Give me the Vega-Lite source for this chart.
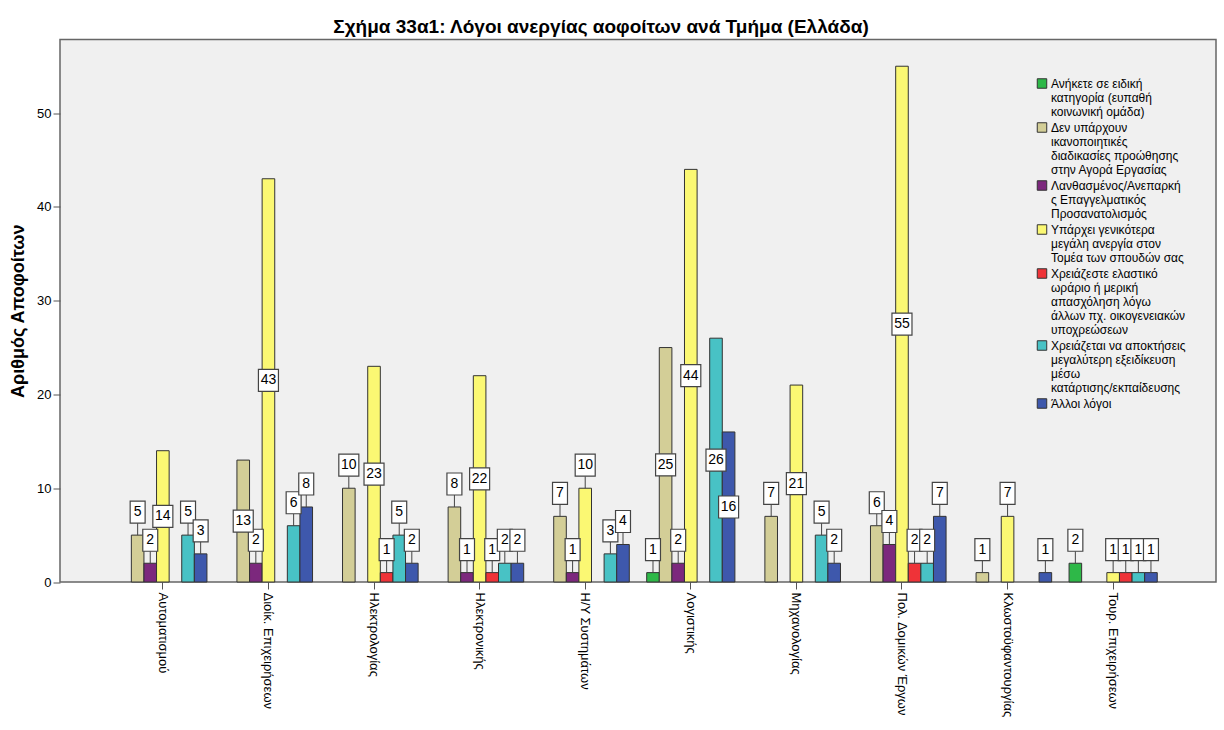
{
  "$schema": "https://vega.github.io/schema/vega-lite/v6.json",
  "width": 1156,
  "height": 542.5,
  "autosize": {"type": "none"},
  "padding": {"left": 60, "top": 39.5, "right": 8, "bottom": 148},
  "background": "white",
  "config": {
    "font": "Liberation Sans",
    "view": {"fill": "#f0f0f0", "stroke": "#666666", "strokeWidth": 1.5},
    "axis": {"grid": false, "domain": false, "tickColor": "#555555", "tickSize": 7, "labelFont": "Liberation Sans", "labelFontSize": 13, "labelColor": "#000000"}
  },
  "title": {"text": "Σχήμα 33α1: Λόγοι ανεργίας αοφοίτων ανά Τμήμα (Ελλάδα)", "font": "Liberation Sans", "fontSize": 19, "fontWeight": "bold", "color": "#000000", "anchor": "middle", "dx": -37, "offset": 3},
  "data": {"values": [
    {"dept": "Αυτοματισμού", "reason": "Δεν υπάρχουν ικανοποιητικές διαδικασίες προώθησης στην Αγορά Εργασίας", "value": 5},
    {"dept": "Αυτοματισμού", "reason": "Λανθασμένος/Ανεπαρκής Επαγγελματικός Προσανατολισμός", "value": 2},
    {"dept": "Αυτοματισμού", "reason": "Υπάρχει γενικότερα μεγάλη ανεργία στον Τομέα των σπουδών σας", "value": 14},
    {"dept": "Αυτοματισμού", "reason": "Χρειάζεται να αποκτήσεις μεγαλύτερη εξειδίκευση μέσω κατάρτισης/εκπαίδευσης", "value": 5},
    {"dept": "Αυτοματισμού", "reason": "Άλλοι λόγοι", "value": 3},
    {"dept": "Διοίκ. Επιχειρήσεων", "reason": "Δεν υπάρχουν ικανοποιητικές διαδικασίες προώθησης στην Αγορά Εργασίας", "value": 13},
    {"dept": "Διοίκ. Επιχειρήσεων", "reason": "Λανθασμένος/Ανεπαρκής Επαγγελματικός Προσανατολισμός", "value": 2},
    {"dept": "Διοίκ. Επιχειρήσεων", "reason": "Υπάρχει γενικότερα μεγάλη ανεργία στον Τομέα των σπουδών σας", "value": 43},
    {"dept": "Διοίκ. Επιχειρήσεων", "reason": "Χρειάζεται να αποκτήσεις μεγαλύτερη εξειδίκευση μέσω κατάρτισης/εκπαίδευσης", "value": 6},
    {"dept": "Διοίκ. Επιχειρήσεων", "reason": "Άλλοι λόγοι", "value": 8},
    {"dept": "Ηλεκτρολογίας", "reason": "Δεν υπάρχουν ικανοποιητικές διαδικασίες προώθησης στην Αγορά Εργασίας", "value": 10},
    {"dept": "Ηλεκτρολογίας", "reason": "Υπάρχει γενικότερα μεγάλη ανεργία στον Τομέα των σπουδών σας", "value": 23},
    {"dept": "Ηλεκτρολογίας", "reason": "Χρειάζεστε ελαστικό ωράριο ή μερική απασχόληση λόγω άλλων πχ. οικογενειακών υποχρεώσεων", "value": 1},
    {"dept": "Ηλεκτρολογίας", "reason": "Χρειάζεται να αποκτήσεις μεγαλύτερη εξειδίκευση μέσω κατάρτισης/εκπαίδευσης", "value": 5},
    {"dept": "Ηλεκτρολογίας", "reason": "Άλλοι λόγοι", "value": 2},
    {"dept": "Ηλεκτρονικής", "reason": "Δεν υπάρχουν ικανοποιητικές διαδικασίες προώθησης στην Αγορά Εργασίας", "value": 8},
    {"dept": "Ηλεκτρονικής", "reason": "Λανθασμένος/Ανεπαρκής Επαγγελματικός Προσανατολισμός", "value": 1},
    {"dept": "Ηλεκτρονικής", "reason": "Υπάρχει γενικότερα μεγάλη ανεργία στον Τομέα των σπουδών σας", "value": 22},
    {"dept": "Ηλεκτρονικής", "reason": "Χρειάζεστε ελαστικό ωράριο ή μερική απασχόληση λόγω άλλων πχ. οικογενειακών υποχρεώσεων", "value": 1},
    {"dept": "Ηλεκτρονικής", "reason": "Χρειάζεται να αποκτήσεις μεγαλύτερη εξειδίκευση μέσω κατάρτισης/εκπαίδευσης", "value": 2},
    {"dept": "Ηλεκτρονικής", "reason": "Άλλοι λόγοι", "value": 2},
    {"dept": "Η/Υ Συστημάτων", "reason": "Δεν υπάρχουν ικανοποιητικές διαδικασίες προώθησης στην Αγορά Εργασίας", "value": 7},
    {"dept": "Η/Υ Συστημάτων", "reason": "Λανθασμένος/Ανεπαρκής Επαγγελματικός Προσανατολισμός", "value": 1},
    {"dept": "Η/Υ Συστημάτων", "reason": "Υπάρχει γενικότερα μεγάλη ανεργία στον Τομέα των σπουδών σας", "value": 10},
    {"dept": "Η/Υ Συστημάτων", "reason": "Χρειάζεται να αποκτήσεις μεγαλύτερη εξειδίκευση μέσω κατάρτισης/εκπαίδευσης", "value": 3},
    {"dept": "Η/Υ Συστημάτων", "reason": "Άλλοι λόγοι", "value": 4},
    {"dept": "Λογιστικής", "reason": "Ανήκετε σε ειδική κατηγορία (ευπαθή κοινωνική ομάδα)", "value": 1},
    {"dept": "Λογιστικής", "reason": "Δεν υπάρχουν ικανοποιητικές διαδικασίες προώθησης στην Αγορά Εργασίας", "value": 25},
    {"dept": "Λογιστικής", "reason": "Λανθασμένος/Ανεπαρκής Επαγγελματικός Προσανατολισμός", "value": 2},
    {"dept": "Λογιστικής", "reason": "Υπάρχει γενικότερα μεγάλη ανεργία στον Τομέα των σπουδών σας", "value": 44},
    {"dept": "Λογιστικής", "reason": "Χρειάζεται να αποκτήσεις μεγαλύτερη εξειδίκευση μέσω κατάρτισης/εκπαίδευσης", "value": 26},
    {"dept": "Λογιστικής", "reason": "Άλλοι λόγοι", "value": 16},
    {"dept": "Μηχανολογίας", "reason": "Δεν υπάρχουν ικανοποιητικές διαδικασίες προώθησης στην Αγορά Εργασίας", "value": 7},
    {"dept": "Μηχανολογίας", "reason": "Υπάρχει γενικότερα μεγάλη ανεργία στον Τομέα των σπουδών σας", "value": 21},
    {"dept": "Μηχανολογίας", "reason": "Χρειάζεται να αποκτήσεις μεγαλύτερη εξειδίκευση μέσω κατάρτισης/εκπαίδευσης", "value": 5},
    {"dept": "Μηχανολογίας", "reason": "Άλλοι λόγοι", "value": 2},
    {"dept": "Πολ. Δομικών Έργων", "reason": "Δεν υπάρχουν ικανοποιητικές διαδικασίες προώθησης στην Αγορά Εργασίας", "value": 6},
    {"dept": "Πολ. Δομικών Έργων", "reason": "Λανθασμένος/Ανεπαρκής Επαγγελματικός Προσανατολισμός", "value": 4},
    {"dept": "Πολ. Δομικών Έργων", "reason": "Υπάρχει γενικότερα μεγάλη ανεργία στον Τομέα των σπουδών σας", "value": 55},
    {"dept": "Πολ. Δομικών Έργων", "reason": "Χρειάζεστε ελαστικό ωράριο ή μερική απασχόληση λόγω άλλων πχ. οικογενειακών υποχρεώσεων", "value": 2},
    {"dept": "Πολ. Δομικών Έργων", "reason": "Χρειάζεται να αποκτήσεις μεγαλύτερη εξειδίκευση μέσω κατάρτισης/εκπαίδευσης", "value": 2},
    {"dept": "Πολ. Δομικών Έργων", "reason": "Άλλοι λόγοι", "value": 7},
    {"dept": "Κλωστοϋφαντουργίας", "reason": "Δεν υπάρχουν ικανοποιητικές διαδικασίες προώθησης στην Αγορά Εργασίας", "value": 1},
    {"dept": "Κλωστοϋφαντουργίας", "reason": "Υπάρχει γενικότερα μεγάλη ανεργία στον Τομέα των σπουδών σας", "value": 7},
    {"dept": "Κλωστοϋφαντουργίας", "reason": "Άλλοι λόγοι", "value": 1},
    {"dept": "Τουρ. Επιχειρήσεων", "reason": "Ανήκετε σε ειδική κατηγορία (ευπαθή κοινωνική ομάδα)", "value": 2},
    {"dept": "Τουρ. Επιχειρήσεων", "reason": "Υπάρχει γενικότερα μεγάλη ανεργία στον Τομέα των σπουδών σας", "value": 1},
    {"dept": "Τουρ. Επιχειρήσεων", "reason": "Χρειάζεστε ελαστικό ωράριο ή μερική απασχόληση λόγω άλλων πχ. οικογενειακών υποχρεώσεων", "value": 1},
    {"dept": "Τουρ. Επιχειρήσεων", "reason": "Χρειάζεται να αποκτήσεις μεγαλύτερη εξειδίκευση μέσω κατάρτισης/εκπαίδευσης", "value": 1},
    {"dept": "Τουρ. Επιχειρήσεων", "reason": "Άλλοι λόγοι", "value": 1}
  ]},
  "encoding": {
    "x": {"field": "dept", "type": "nominal",
      "scale": {"domain": ["Αυτοματισμού", "Διοίκ. Επιχειρήσεων", "Ηλεκτρολογίας", "Ηλεκτρονικής", "Η/Υ Συστημάτων", "Λογιστικής", "Μηχανολογίας", "Πολ. Δομικών Έργων", "Κλωστοϋφαντουργίας", "Τουρ. Επιχειρήσεων"], "paddingInner": 0, "paddingOuter": 0.474},
      "axis": {"title": null, "labelAngle": 90, "labelAlign": "left", "labelBaseline": "middle", "labelPadding": 3, "labelLimit": 200}},
    "xOffset": {"field": "reason", "type": "nominal",
      "scale": {"domain": ["Ανήκετε σε ειδική κατηγορία (ευπαθή κοινωνική ομάδα)", "Δεν υπάρχουν ικανοποιητικές διαδικασίες προώθησης στην Αγορά Εργασίας", "Λανθασμένος/Ανεπαρκής Επαγγελματικός Προσανατολισμός", "Υπάρχει γενικότερα μεγάλη ανεργία στον Τομέα των σπουδών σας", "Χρειάζεστε ελαστικό ωράριο ή μερική απασχόληση λόγω άλλων πχ. οικογενειακών υποχρεώσεων", "Χρειάζεται να αποκτήσεις μεγαλύτερη εξειδίκευση μέσω κατάρτισης/εκπαίδευσης", "Άλλοι λόγοι"], "paddingInner": 0, "paddingOuter": 0.69}}
  },
  "layer": [
    {
      "mark": {"type": "bar", "stroke": "#333333", "strokeWidth": 1},
      "encoding": {
        "y": {"field": "value", "type": "quantitative", "scale": {"domain": [0, 57.85], "nice": false},
          "axis": {"title": "Αριθμός Αποφοίτων", "values": [0, 10, 20, 30, 40, 50], "titleFont": "Liberation Sans", "titleFontSize": 18, "titleFontWeight": "bold", "titleColor": "#000000", "titlePadding": 9}},
        "color": {"field": "reason", "type": "nominal",
          "scale": {"domain": ["Ανήκετε σε ειδική κατηγορία (ευπαθή κοινωνική ομάδα)", "Δεν υπάρχουν ικανοποιητικές διαδικασίες προώθησης στην Αγορά Εργασίας", "Λανθασμένος/Ανεπαρκής Επαγγελματικός Προσανατολισμός", "Υπάρχει γενικότερα μεγάλη ανεργία στον Τομέα των σπουδών σας", "Χρειάζεστε ελαστικό ωράριο ή μερική απασχόληση λόγω άλλων πχ. οικογενειακών υποχρεώσεων", "Χρειάζεται να αποκτήσεις μεγαλύτερη εξειδίκευση μέσω κατάρτισης/εκπαίδευσης", "Άλλοι λόγοι"],
            "range": ["#2eb848", "#d3ce97", "#7c287d", "#fbf873", "#ef3338", "#48c2c5", "#3e58ac"]},
          "legend": {"title": null, "orient": "none", "legendX": 976, "legendY": 38, "padding": 0,
            "symbolType": "square", "symbolSize": 90, "symbolStrokeColor": "#333333", "symbolStrokeWidth": 1,
            "labelFont": "Liberation Sans", "labelFontSize": 12, "labelColor": "#000000", "labelLimit": 300, "labelOffset": 3, "rowPadding": 3,
            "labelExpr": "{'Ανήκετε σε ειδική κατηγορία (ευπαθή κοινωνική ομάδα)': ['Ανήκετε σε ειδική', 'κατηγορία (ευπαθή', 'κοινωνική ομάδα)'], 'Δεν υπάρχουν ικανοποιητικές διαδικασίες προώθησης στην Αγορά Εργασίας': ['Δεν υπάρχουν', 'ικανοποιητικές', 'διαδικασίες προώθησης', 'στην Αγορά Εργασίας'], 'Λανθασμένος/Ανεπαρκής Επαγγελματικός Προσανατολισμός': ['Λανθασμένος/Ανεπαρκή', 'ς Επαγγελματικός', 'Προσανατολισμός'], 'Υπάρχει γενικότερα μεγάλη ανεργία στον Τομέα των σπουδών σας': ['Υπάρχει γενικότερα', 'μεγάλη ανεργία στον', 'Τομέα των σπουδών σας'], 'Χρειάζεστε ελαστικό ωράριο ή μερική απασχόληση λόγω άλλων πχ. οικογενειακών υποχρεώσεων': ['Χρειάζεστε ελαστικό', 'ωράριο ή μερική', 'απασχόληση λόγω', 'άλλων πχ. οικογενειακών', 'υποχρεώσεων'], 'Χρειάζεται να αποκτήσεις μεγαλύτερη εξειδίκευση μέσω κατάρτισης/εκπαίδευσης': ['Χρειάζεται να αποκτήσεις', 'μεγαλύτερη εξειδίκευση', 'μέσω', 'κατάρτισης/εκπαίδευσης'], 'Άλλοι λόγοι': ['Άλλοι λόγοι']}[datum.label]"}}
      }
    },
    {
      "transform": [{"filter": "datum.value < 13"}],
      "mark": {"type": "rule", "color": "#444444", "strokeWidth": 1, "y2Offset": -12},
      "encoding": {
        "y": {"field": "value", "type": "quantitative", "scale": {"domain": [0, 57.85], "nice": false}, "axis": null},
        "y2": {"field": "value"}
      }
    },
    {
      "transform": [{"filter": "datum.value < 13"}],
      "mark": {"type": "point", "filled": true, "fill": "#ffffff", "stroke": "#444444", "strokeWidth": 1.2, "opacity": 1, "size": 484, "yOffset": -23},
      "encoding": {
        "y": {"field": "value", "type": "quantitative", "scale": {"domain": [0, 57.85], "nice": false}, "axis": null},
        "shape": {"condition": {"test": "datum.value >= 10", "value": "M-0.91,-1H0.91V1H-0.91Z"}, "value": "M-0.68,-1H0.68V1H-0.68Z"}
      }
    },
    {
      "transform": [{"filter": "datum.value < 13"}],
      "mark": {"type": "text", "font": "Liberation Sans", "fontSize": 14, "color": "#000000", "baseline": "middle", "yOffset": -23},
      "encoding": {
        "y": {"field": "value", "type": "quantitative", "scale": {"domain": [0, 57.85], "nice": false}, "axis": null},
        "text": {"field": "value", "type": "quantitative"}
      }
    },
    {
      "transform": [{"filter": "datum.value >= 13"}],
      "mark": {"type": "point", "filled": true, "fill": "#ffffff", "stroke": "#444444", "strokeWidth": 1.2, "opacity": 1, "size": 484},
      "encoding": {
        "y": {"field": "value", "type": "quantitative", "scale": {"domain": [0, 115.7], "nice": false}, "axis": null},
        "shape": {"value": "M-0.91,-1H0.91V1H-0.91Z"}
      }
    },
    {
      "transform": [{"filter": "datum.value >= 13"}],
      "mark": {"type": "text", "font": "Liberation Sans", "fontSize": 14, "color": "#000000", "baseline": "middle"},
      "encoding": {
        "y": {"field": "value", "type": "quantitative", "scale": {"domain": [0, 115.7], "nice": false}, "axis": null},
        "text": {"field": "value", "type": "quantitative"}
      }
    }
  ],
  "resolve": {"scale": {"y": "independent"}}
}
